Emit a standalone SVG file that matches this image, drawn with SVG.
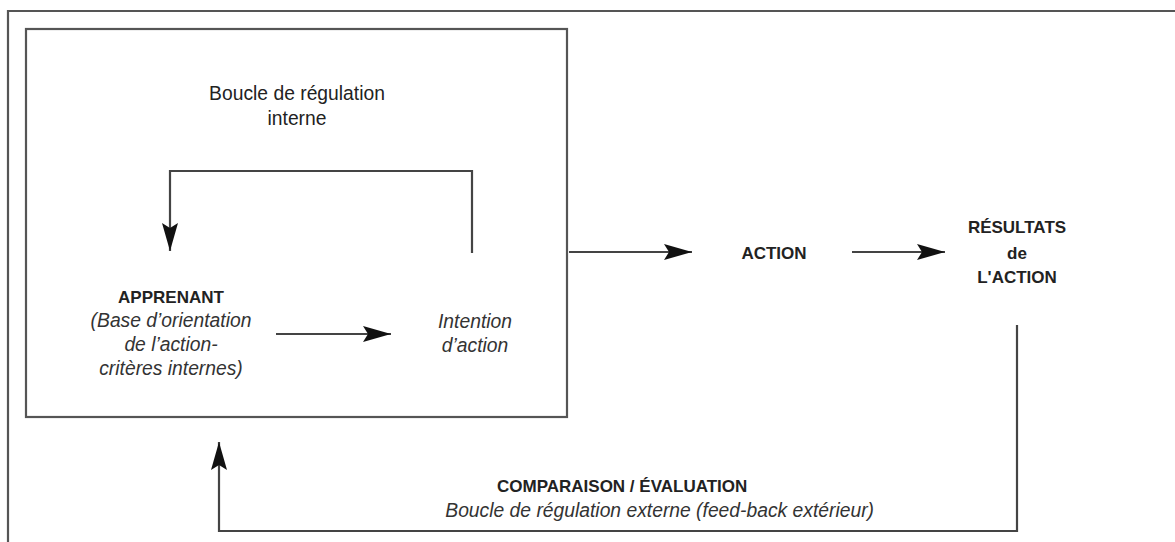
<svg xmlns="http://www.w3.org/2000/svg" width="1175" height="542" viewBox="0 0 1175 542">
  <style>
    .frame { fill: none; stroke: #555; stroke-width: 2.2; }
    .line { fill: none; stroke: #444; stroke-width: 2.2; }
    text { font-family: "Liberation Sans", Arial, sans-serif; fill: #222; text-anchor: middle; }
    .reg { font-size: 19.3px; }
    .bold { font-size: 17px; font-weight: bold; }
    .ital { font-size: 19.3px; font-style: italic; fill: #333; }
  </style>
  <defs>
    <marker id="arrow" markerUnits="userSpaceOnUse" markerWidth="34" markerHeight="20" viewBox="-32 -10 34 20" refX="0" refY="0" orient="auto">
      <path d="M0,0 L-28,-8 L-23,0 L-28,8 Z" fill="#111"/>
    </marker>
  </defs>

  <rect x="0" y="0" width="1175" height="542" fill="#fff"/>

  <!-- outer frame -->
  <path class="frame" d="M8,560 L8,11 L1190,11"/>

  <!-- learner system box -->
  <g id="learner-box">
    <rect class="frame" x="26" y="29" width="541" height="388"/>
  </g>

  <g id="internal-loop-label">
    <text class="reg" x="297" y="100">Boucle de régulation</text>
    <text class="reg" x="297" y="125">interne</text>
  </g>

  <g id="apprenant">
    <text class="bold" x="171" y="303">APPRENANT</text>
    <text class="ital" x="171" y="327">(Base d’orientation</text>
    <text class="ital" x="171" y="351">de l’action-</text>
    <text class="ital" x="171" y="375">critères internes)</text>
  </g>

  <g id="intention">
    <text class="ital" x="475" y="328">Intention</text>
    <text class="ital" x="475" y="352">d’action</text>
  </g>

  <g id="action">
    <text class="bold" x="774" y="259">ACTION</text>
  </g>

  <g id="resultats">
    <text class="bold" x="1017" y="233">RÉSULTATS</text>
    <text class="bold" x="1017" y="259">de</text>
    <text class="bold" x="1017" y="283">L'ACTION</text>
  </g>

  <g id="external-loop-label">
    <text class="bold" x="497" y="492" style="text-anchor:start">COMPARAISON / ÉVALUATION</text>
    <text class="ital" x="874" y="517" style="text-anchor:end">Boucle de régulation externe (feed-back extérieur)</text>
  </g>

  <!-- connectors -->
  <g id="connectors">
    <path class="line" d="M472,253 L472,171 L170,171 L170,251" marker-end="url(#arrow)"/>
    <path class="line" d="M276,334 L391,334" marker-end="url(#arrow)"/>
    <path class="line" d="M569,252 L692,252" marker-end="url(#arrow)"/>
    <path class="line" d="M852,252 L945,252" marker-end="url(#arrow)"/>
    <path class="line" d="M1017,325 L1017,531 L219,531 L219,442" marker-end="url(#arrow)"/>
  </g>
</svg>
